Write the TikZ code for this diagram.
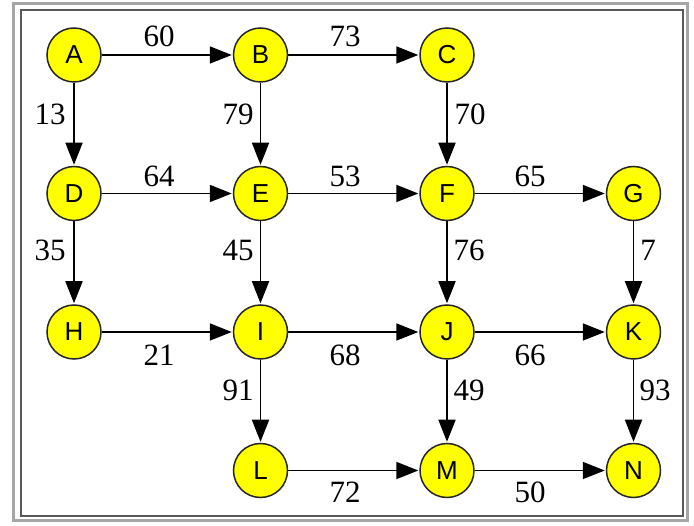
\documentclass[tikz,border=0pt]{standalone}
\usepackage{fontspec}
\setmainfont{Liberation Serif}
\newfontfamily\nodefont{Liberation Sans}
\usetikzlibrary{arrows.meta}
\definecolor{nodeyellow}{HTML}{FFFF00}
\begin{document}
\begin{tikzpicture}[x=1pt,y=-1pt,
  vert/.style={circle,draw=black!85,line width=1.5pt,fill=nodeyellow,minimum size=54pt,inner sep=0pt,font=\nodefont\fontsize{26}{26}\selectfont},
  edge/.style={line width=1.8pt,-{Triangle[length=22pt,width=17pt]},shorten >=1pt},
  lab/.style={font=\fontsize{31}{31}\selectfont,inner sep=1pt}]
\useasboundingbox (0,0) rectangle (694,526);
\draw[gray!70,line width=3pt] (13.5,3.5) rectangle (687,520.5);
\draw[black!65,line width=1.5pt] (21,10) rectangle (683,516);
\node[vert] (A) at (74,55) {A};
\node[vert] (B) at (260.5,55) {B};
\node[vert] (C) at (447,55) {C};
\node[vert] (D) at (74,193.5) {D};
\node[vert] (E) at (260.5,193.5) {E};
\node[vert] (F) at (447,193.5) {F};
\node[vert] (G) at (633.5,193.5) {G};
\node[vert] (H) at (74,332) {H};
\node[vert] (I) at (260.5,332) {I};
\node[vert] (J) at (447,332) {J};
\node[vert] (K) at (633.5,332) {K};
\node[vert] (L) at (260.5,470.5) {L};
\node[vert] (M) at (447,470.5) {M};
\node[vert] (N) at (633.5,470.5) {N};
% horizontal edges
\draw[edge] (A) -- (B);
\draw[edge] (B) -- (C);
\draw[edge] (D) -- (E);
\draw[edge] (E) -- (F);
\draw[edge] (F) -- (G);
\draw[edge] (H) -- (I);
\draw[edge] (I) -- (J);
\draw[edge] (J) -- (K);
\draw[edge] (L) -- (M);
\draw[edge] (M) -- (N);
% vertical edges
\draw[edge] (A) -- (D);
\draw[edge] (B) -- (E);
\draw[edge] (C) -- (F);
\draw[edge] (D) -- (H);
\draw[edge] (E) -- (I);
\draw[edge] (F) -- (J);
\draw[edge] (G) -- (K);
\draw[edge] (I) -- (L);
\draw[edge] (J) -- (M);
\draw[edge] (K) -- (N);
% labels
\node[lab] (l60) at (159,36) {60};
\node[lab] (l73) at (345,36) {73};
\node[lab] (l13) at (50,114) {13};
\node[lab] (l79) at (238,114) {79};
\node[lab] (l70) at (470,114) {70};
\node[lab] (l64) at (159,176) {64};
\node[lab] (l53) at (345,176) {53};
\node[lab] (l65) at (530,176) {65};
\node[lab] (l35) at (50,250) {35};
\node[lab] (l45) at (238,250) {45};
\node[lab] (l76) at (469,250) {76};
\node[lab] (l7) at (648,250) {7};
\node[lab] (l21) at (159,355) {21};
\node[lab] (l68) at (345,355) {68};
\node[lab] (l66) at (530,355) {66};
\node[lab] (l91) at (238,390) {91};
\node[lab] (l49) at (469,390) {49};
\node[lab] (l93) at (655,390) {93};
\node[lab] (l72) at (345,492) {72};
\node[lab] (l50) at (530,492) {50};
\end{tikzpicture}
\end{document}
